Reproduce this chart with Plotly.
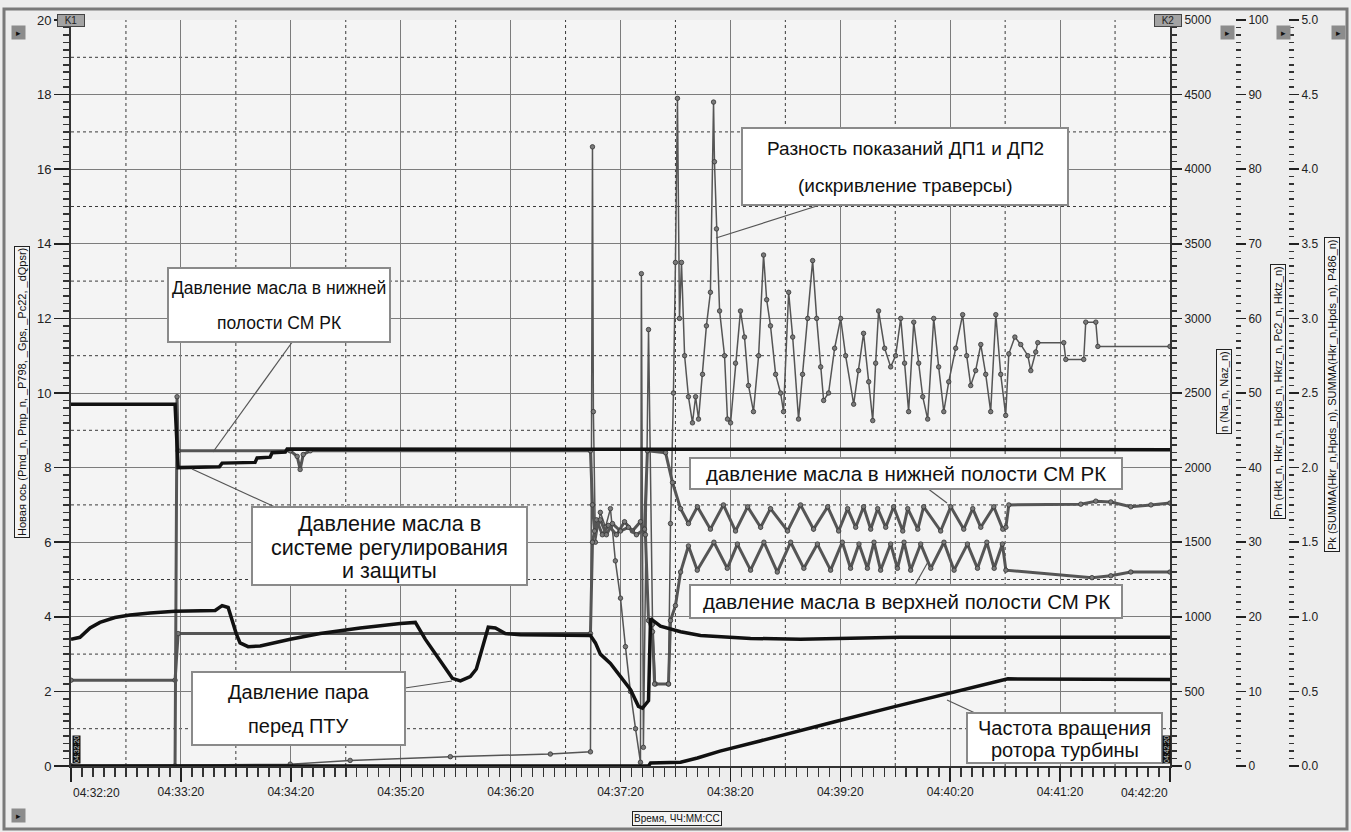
import plotly.graph_objects as go

# ---------------- data (time = seconds after 04:32:20) ----------------
x_tick_vals = [0, 60, 120, 180, 240, 300, 360, 420, 480, 540, 600]
x_tick_labels = ["04:32:20", "04:33:20", "04:34:20", "04:35:20", "04:36:20", "04:37:20",
                 "04:38:20", "04:39:20", "04:40:20", "04:41:20", "04:42:20"]

# oil pressure in regulation & protection system
reg_t = [0, 56.8, 58.5, 81.0, 82.5, 100.5, 101.6, 108.7, 109.8, 117.0, 118.0, 600]
reg_v = [9.7, 9.7, 8.0, 8.02, 8.12, 8.14, 8.26, 8.28, 8.4, 8.42, 8.5, 8.48]

# oil pressure in lower cavity of servomotor
low_t = [0, 56.8, 57.9, 58.5, 119.7, 123.5, 125.1, 126.8, 130.6, 283.6,
         284.7, 285.8, 289.0, 292.3, 295.6, 300.0, 304.3, 308.7, 313.1, 314.7,
         324.6, 328.4, 332.8, 337.1,
         342.0, 349.1, 356.2, 362.8, 369.4, 376.5, 381.9, 391.2, 398.3, 405.4,
         413.1, 419.1, 424.0, 428.4, 432.7, 436.6, 440.4, 444.8, 449.1, 454.1,
         456.8, 462.3, 465.5, 474.8, 480.3, 487.4, 492.3, 496.7, 503.8, 508.7,
         510.4, 512.0, 551.3, 559.5, 567.7, 578.6, 589.6, 600]
low_v = [0, 0, 9.9, 8.45, 8.45, 8.3, 7.95, 8.35, 8.45, 8.45,
         7.0, 6.3, 6.6, 6.2, 6.5, 6.3, 6.4, 6.2, 6.35, 8.45,
         8.4, 7.6, 6.9, 6.5,
         6.95, 6.35, 7.0, 6.3, 6.95, 6.4, 6.9, 6.3, 7.0, 6.35,
         6.95, 6.3, 6.9, 6.4, 6.95, 6.35, 6.9, 6.4, 6.95, 6.3,
         6.9, 6.35, 6.95, 6.3, 6.95, 6.35, 6.9, 6.4, 6.95, 6.35,
         6.4, 7.0, 7.02, 7.1, 7.08, 6.95, 7.0, 7.05]

# oil pressure in upper cavity of servomotor
up_t = [0, 56.8, 58.5, 283.6, 284.7, 286.9, 290.1, 293.4, 297.8, 302.2,
        306.5, 310.9, 313.6, 315.3, 317.5, 318.6, 326.2, 327.3, 330.0, 332.8,
        337.1,
        341.9, 351.0, 358.3, 363.8, 371.0, 378.3, 385.6, 392.9, 400.1, 407.5,
        414.7, 421.1, 425.6, 430.2, 434.8, 438.4, 442.0, 447.5, 451.2, 454.8,
        458.4, 463.9, 469.4, 476.6, 482.1, 489.4, 494.9, 500.0, 504.0, 508.5,
        510.4, 557.4, 567.7, 578.6, 600]
up_v = [2.3, 2.3, 3.55, 3.55, 6.0, 6.6, 6.2, 6.45, 6.2, 6.55,
        6.3, 6.55, 6.2, 3.9, 3.6, 2.2, 2.2, 3.9, 4.3, 5.2,
        5.9,
        5.25, 6.0, 5.3, 5.95, 5.25, 6.0, 5.2, 6.0, 5.3, 5.95,
        5.25, 6.0, 5.3, 5.95, 5.3, 6.0, 5.25, 5.95, 5.3, 6.0,
        5.25, 5.95, 5.3, 6.0, 5.25, 5.95, 5.3, 6.0, 5.3, 5.95,
        5.25, 5.05, 5.1, 5.2, 5.2]

# steam pressure before PTU
steam_t = [0, 4.9, 10.4, 15.8, 24.0, 32.2, 43.2, 56.8, 78.7, 82.5,
           85.8, 88.0, 90.2, 92.3, 96.7, 103.3, 119.7, 136.0, 157.9, 179.8,
           188.0, 193.4, 201.6, 208.2, 212.6, 218.0, 221.3, 224.6, 227.8, 231.7,
           237.1, 245.3, 283.6, 286.3, 289.0, 294.5, 300.0, 305.4, 309.8, 312.0,
           315.3, 316.4, 321.8, 332.8, 343.7, 371.0, 398.3, 453.0, 507.6, 600]
steam_v = [3.4, 3.45, 3.7, 3.85, 3.98, 4.05, 4.1, 4.15, 4.17, 4.3,
           4.25, 3.9, 3.55, 3.3, 3.2, 3.22, 3.4, 3.55, 3.7, 3.82,
           3.85, 3.4, 2.8, 2.35, 2.28, 2.4, 2.6, 3.2, 3.72, 3.7,
           3.55, 3.52, 3.5, 3.3, 3.0, 2.75, 2.4, 2.05, 1.6, 1.55,
           1.75, 3.95, 3.75, 3.6, 3.5, 3.42, 3.4, 3.45, 3.45, 3.45]

# turbine rotor speed, rpm (n axis)
rotor_t = [0, 315.3, 316.4, 332.8, 342.0, 354.3, 376.2, 398.3, 416.4, 449.1, 480.3, 511.5, 600]
rotor_rpm = [0, 0, 20, 25, 54, 100, 168, 235, 295, 396, 490, 584, 580]

# difference of DP1 and DP2 readings
diff_t = [0, 119.7, 152.4, 207.1, 261.7, 283.6, 284.7, 285.2, 286.3, 289.0,
          291.8, 294.5, 297.2, 300.0, 302.7, 305.4, 308.2, 310.9, 311.4, 312.5,
          315.3, 317.5, 319.1, 326.2, 327.3, 328.9, 330.0, 331.1, 332.2, 333.3,
          335.0, 337.1, 339.3, 341.0, 342.6, 344.8, 346.9, 349.1, 350.8, 351.3,
          352.4, 354.1, 356.8, 358.4, 360.1, 362.8, 365.5, 367.7, 369.9, 372.6,
          375.4, 378.1, 379.8, 381.9, 384.7, 387.4, 389.0, 391.8, 394.0, 397.2,
          399.4, 402.2, 404.9, 407.1, 409.3, 410.9, 413.6, 416.9, 420.2, 422.9,
          427.3, 430.0, 432.7, 435.5, 437.7, 439.3, 440.9, 444.2, 447.5, 450.2,
          453.0, 455.1, 457.3, 460.1, 462.8, 465.0, 467.7, 471.0, 473.7, 476.5,
          479.2, 483.0, 486.8, 489.0, 491.2, 493.9, 496.7, 499.4, 502.1, 504.9,
          507.6, 510.3, 512.0, 515.3, 518.5, 522.4, 524.0, 526.7, 527.8, 542.0,
          543.1, 552.9, 554.0, 559.5, 560.6, 600]
diff_v = [0.0, 0.05, 0.15, 0.25, 0.32, 0.38, 16.6, 9.5, 6.0, 6.8,
          6.4, 6.9, 5.5, 4.5, 3.2, 2.0, 1.0, 0.1, 13.2, 0.5,
          11.7, 3.8, 2.2, 2.2, 6.5, 10.0, 13.5, 17.9, 12.0, 13.5,
          11.0, 9.9, 9.2, 9.9, 9.3, 10.5, 11.8, 12.7, 17.8, 16.2,
          14.4, 12.2, 11.0, 9.3, 9.2, 10.8, 12.2, 11.5, 10.2, 9.5,
          11.0, 13.7, 12.5, 11.8, 10.5, 10.0, 9.5, 12.7, 11.5, 9.3,
          10.5, 12.0, 13.55, 12.0, 10.7, 9.8, 10.0, 11.2, 12.0, 11.0,
          9.7, 10.6, 11.6, 10.3, 9.26, 10.8, 12.2, 11.2, 10.7, 11.0,
          12.0, 10.8, 9.5, 11.9, 10.8, 9.9, 9.3, 12.0, 10.7, 9.5,
          10.3, 11.2, 12.1, 11.0, 10.2, 10.6, 11.3, 10.5, 9.5, 12.1,
          10.5, 9.4, 11.05, 11.5, 11.3, 11.0, 10.6, 11.1, 11.35, 11.35,
          10.9, 10.9, 11.9, 11.9, 11.25, 11.25]

# ---------------- layout helpers (pixel -> paper) ----------------
W, H = 1351, 832
ML, MR, MT, MB = 71, 12, 20, 66
PW = W - ML - MR
PH = H - MT - MB
PLOT_R = 1170
X_DOM = (PLOT_R - ML) / PW


def px(xp):
    return (xp - ML) / PW


def py(yp):
    return (H - MB - yp) / PH


TXT_FONT = "Liberation Sans, Arial, sans-serif"
TICK_FONT = dict(family="Liberation Sans Narrow, Arial Narrow, Liberation Sans, Arial", size=12, color="#222")
GRAY_LINE = "#555555"
GRAY_MK = dict(symbol="circle", size=4.5, color="#7a7a7a", line=dict(color="#333", width=0.8))

fig = go.Figure()

fig.add_trace(go.Scatter(x=diff_t, y=diff_v, mode="lines+markers",
                         line=dict(color=GRAY_LINE, width=1.5), marker=GRAY_MK,
                         name="Разность ДП1 и ДП2"))
fig.add_trace(go.Scatter(x=up_t, y=up_v, mode="lines+markers",
                         line=dict(color=GRAY_LINE, width=3), marker=GRAY_MK,
                         name="верхняя полость"))
fig.add_trace(go.Scatter(x=low_t, y=low_v, mode="lines+markers",
                         line=dict(color=GRAY_LINE, width=3), marker=GRAY_MK,
                         name="нижняя полость"))
fig.add_trace(go.Scatter(x=steam_t, y=steam_v, mode="lines",
                         line=dict(color="#111", width=3.5), name="Давление пара"))
fig.add_trace(go.Scatter(x=reg_t, y=reg_v, mode="lines",
                         line=dict(color="#111", width=3.5), name="Система регулирования"))
fig.add_trace(go.Scatter(x=rotor_t, y=rotor_rpm, mode="lines", yaxis="y2",
                         line=dict(color="#111", width=3.5), name="Частота вращения"))
fig.add_trace(go.Scatter(x=[0], y=[None], yaxis="y3", showlegend=False, hoverinfo="skip"))
fig.add_trace(go.Scatter(x=[0], y=[None], yaxis="y4", showlegend=False, hoverinfo="skip"))

x_text = [""] + x_tick_labels[1:-1] + [""]
GRID = "#7c7c7c"

fig.update_layout(
    width=W, height=H,
    margin=dict(l=ML, r=MR, t=MT, b=MB),
    paper_bgcolor="#ededed", plot_bgcolor="#f4f4f4",
    showlegend=False, hovermode=False,
    font=dict(family=TXT_FONT, color="#111"),
    xaxis=dict(domain=[0, X_DOM], range=[0, 600], tickmode="array",
               tickvals=x_tick_vals, ticktext=x_text, ticks="outside", ticklen=14,
               tickcolor="#222", tickwidth=1.5, tickfont=TICK_FONT,
               showline=True, linecolor="#333", linewidth=2, mirror=False,
               showgrid=True, gridcolor=GRID, gridwidth=1, zeroline=False,
               minor=dict(tickmode="linear", tick0=0, dtick=6, ticks="outside",
                          ticklen=9, tickcolor="#333", tickwidth=1.5, showgrid=False)),
    yaxis=dict(range=[0, 20], dtick=2, ticks="outside", ticklen=15, tickcolor="#222",
               tickwidth=1.5, tickfont=dict(TICK_FONT, size=13),
               showline=True, linecolor="#333", linewidth=2,
               showgrid=True, gridcolor=GRID, gridwidth=1, zeroline=False,
               minor=dict(dtick=0.2, ticks="outside", ticklen=6, tickcolor="#333",
                          tickwidth=1.5, showgrid=False)),
    yaxis2=dict(overlaying="y", anchor="x", side="right", range=[0, 5000], dtick=500,
                ticks="outside", ticklen=10, tickcolor="#222", tickwidth=1.5,
                tickfont=TICK_FONT, showline=True, linecolor="#333", linewidth=2,
                showgrid=False, zeroline=False,
                minor=dict(dtick=50, ticks="outside", ticklen=5, tickcolor="#333",
                           tickwidth=1.5, showgrid=False)),
    yaxis3=dict(overlaying="y", anchor="free", side="right", position=px(1235),
                range=[0, 100], dtick=10, ticks="outside", ticklen=10, tickcolor="#222",
                tickwidth=1.5, tickfont=TICK_FONT, showline=False, showgrid=False,
                zeroline=False,
                minor=dict(dtick=1, ticks="outside", ticklen=5, tickcolor="#333",
                           tickwidth=1.5, showgrid=False)),
    yaxis4=dict(overlaying="y", anchor="free", side="right", position=px(1288),
                range=[0, 5], dtick=0.5, tickformat=".1f", ticks="outside", ticklen=10,
                tickcolor="#222", tickwidth=1.5, tickfont=TICK_FONT, showline=False,
                showgrid=False, zeroline=False,
                minor=dict(dtick=0.05, ticks="outside", ticklen=5, tickcolor="#333",
                           tickwidth=1.5, showgrid=False)),
)

shapes = []
# dotted intermediate grid
for v in range(1, 20, 2):
    shapes.append(dict(type="line", xref="x", yref="y", x0=0, x1=600, y0=v, y1=v,
                       line=dict(color="#3a3a3a", width=1, dash="dot"), layer="below"))
for t in range(30, 600, 60):
    shapes.append(dict(type="line", xref="x", yref="y", x0=t, x1=t, y0=0, y1=20,
                       line=dict(color="#3a3a3a", width=1, dash="dot"), layer="below"))
# outer frame
shapes.append(dict(type="rect", xref="paper", yref="paper", x0=px(4), x1=px(1347),
                   y0=py(829), y1=py(9), line=dict(color="#7a7a7a", width=3)))
# leader lines for callouts (pixel pairs)
leaders = [((293, 341), (213, 452)), ((275, 507), (192, 469)), ((405, 688), (452, 681)),
           ((820, 205), (716, 238)), ((927, 488), (947, 503)), ((915, 585), (928, 562)),
           ((975, 713), (947, 700))]
for (a, b) in leaders:
    shapes.append(dict(type="line", xref="paper", yref="paper", x0=px(a[0]), y0=py(a[1]),
                       x1=px(b[0]), y1=py(b[1]), line=dict(color="#555", width=1.2)))

ann = []


def box(lines, x0, y0, x1, y1, line_ys, size):
    shapes.append(dict(type="rect", xref="paper", yref="paper", x0=px(x0), x1=px(x1),
                       y0=py(y1), y1=py(y0), fillcolor="#ffffff",
                       line=dict(color="#8a8a8a", width=2)))
    for txt, ly in zip(lines, line_ys):
        ann.append(dict(text=txt, xref="paper", yref="paper", x=px((x0 + x1) / 2),
                        y=py(ly), xanchor="center", yanchor="middle", showarrow=False,
                        font=dict(family=TXT_FONT, size=size, color="#111")))


box(["Давление масла в нижней", "полости СМ РК"], 168, 268, 390, 342, [288, 323], 17.5)
box(["Давление масла в", "системе регулирования", "и защиты"], 252, 507, 527, 585,
    [524, 548, 571], 21.5)
box(["Давление пара", "перед ПТУ"], 192, 672, 405, 745, [692, 726], 20)
box(["Разность показаний ДП1 и ДП2", "(искривление траверсы)"], 742, 128, 1068, 205,
    [148, 185], 19)
box(["давление масла в нижней полости СМ РК"], 690, 458, 1122, 489, [473], 20.5)
box(["давление масла в верхней полости СМ РК"], 690, 585, 1122, 618, [601], 20.5)
box(["Частота вращения", "ротора турбины"], 967, 713, 1162, 763, [728, 750], 20)

fig.update_layout(shapes=shapes)


def vtitle(text, cx, cy, size=11):
    ann.append(dict(text=text, xref="paper", yref="paper", x=px(cx), y=py(cy),
                    xanchor="center", yanchor="middle", showarrow=False, textangle=-90,
                    bgcolor="#f4f4f4", bordercolor="#222", borderwidth=1, borderpad=1,
                    font=dict(family=TXT_FONT, size=size, color="#111")))


vtitle("Новая ось (Pmd_n, Pmp_n, _P798, _Gps, _Pc22, _dQpsr)", 22, 392)
vtitle("n (Na_n, Naz_n)", 1224, 392)
vtitle("Pn (Hkt_n, Hkr_n, Hpds_n, Hkrz_n, Pc2_n, Hktz_n)", 1278, 392)
vtitle("Pk (SUMMA(Hkr_n,Hpds_n), SUMMA(Hkr_n,Hpds_n), P486_n)", 1332, 395)

# x axis title
ann.append(dict(text="Время, ЧЧ:ММ:СС", xref="paper", yref="paper", x=px(677), y=py(818),
                xanchor="center", yanchor="middle", showarrow=False,
                bgcolor="#f4f4f4", bordercolor="#222", borderwidth=1, borderpad=1,
                font=dict(family=TXT_FONT, size=10, color="#111")))
# first and last time labels (aligned inward)
ann.append(dict(text=x_tick_labels[0], xref="paper", yref="paper", x=px(71), y=py(784),
                xanchor="left", yanchor="top", showarrow=False, font=TICK_FONT))
ann.append(dict(text=x_tick_labels[-1], xref="paper", yref="paper", x=px(1170), y=py(784),
                xanchor="right", yanchor="top", showarrow=False, font=TICK_FONT))

# cursor markers K1 / K2
for lbl, cx in (("K1", 71), ("K2", 1168)):
    ann.append(dict(text=lbl, xref="paper", yref="paper", x=px(cx), y=py(20),
                    xanchor="center", yanchor="middle", showarrow=False,
                    width=26, height=11, bgcolor="#a3a3a3", bordercolor="#444",
                    borderwidth=1, borderpad=0,
                    font=dict(family=TXT_FONT, size=10, color="#222")))
for lbl, cx in ((x_tick_labels[0], 76), (x_tick_labels[-1], 1166)):
    ann.append(dict(text=lbl, xref="paper", yref="paper", x=px(cx), y=py(750),
                    xanchor="center", yanchor="middle", showarrow=False, textangle=-90,
                    bgcolor="#111", borderpad=0,
                    font=dict(family=TXT_FONT, size=7, color="#ccc")))
# small arrow buttons
for bx, by in ((18, 32), (1227, 32), (1283, 32), (1338, 32), (18, 815)):
    ann.append(dict(text="▸", xref="paper", yref="paper", x=px(bx), y=py(by),
                    xanchor="center", yanchor="middle", showarrow=False,
                    width=13, height=13, bgcolor="#8c8c8c", borderpad=0,
                    font=dict(family="DejaVu Sans", size=9, color="#111")))

fig.update_layout(annotations=ann)

# remove the default page margin so the figure fills the window exactly
fig.write_html("out.html", config={"displayModeBar": False, "staticPlot": True},
               post_script="document.body.style.margin='0';")
